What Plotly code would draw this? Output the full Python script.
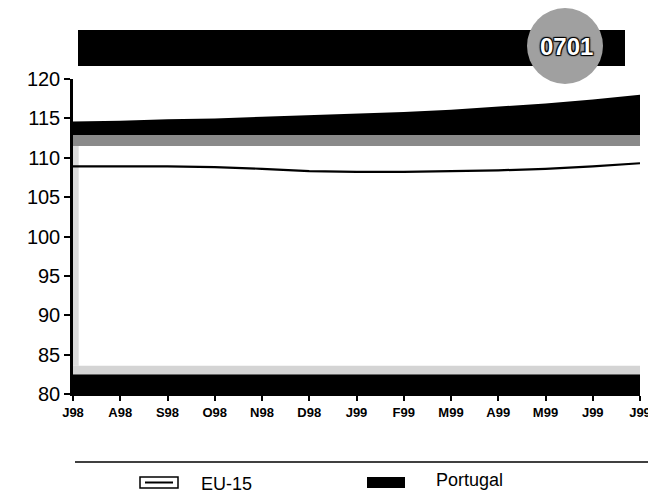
import plotly.graph_objects as go

# ---- data ----
months = ["J98", "A98", "S98", "O98", "N98", "D98", "J99", "F99", "M99", "A99", "M99", "J99", "J99"]
eu15 = [108.9, 108.9, 108.9, 108.8, 108.6, 108.3, 108.2, 108.2, 108.3, 108.4, 108.6, 108.9, 109.3]
portugal_top = [114.6, 114.7, 114.9, 115.0, 115.2, 115.4, 115.6, 115.8, 116.1, 116.5, 116.9, 117.4, 118.0]
portugal_base = [112.9] * 13
grey_upper = [111.5] * 13
bottom_black = [82.5] * 13
bottom_grey = [83.6] * 13
y_ticks = [80, 85, 90, 95, 100, 105, 110, 115, 120]
header_code = "0701"

W, H = 664, 494
L, R, T, B = 73, 24, 79, 100
PW, PH = W - L - R, H - T - B

def px(x):
    return (x - L) / PW

def py(y):
    return (H - B - y) / PH

xs = list(range(len(months)))
fig = go.Figure()

# bottom bands
fig.add_trace(go.Scatter(x=xs, y=[80] * 13, mode="lines", line=dict(width=0), showlegend=False, hoverinfo="skip"))
fig.add_trace(go.Scatter(x=xs, y=bottom_black, mode="lines", line=dict(width=0), fill="tonexty",
                         fillcolor="#000000", showlegend=False, hoverinfo="skip"))
fig.add_trace(go.Scatter(x=xs, y=bottom_grey, mode="lines", line=dict(width=0), fill="tonexty",
                         fillcolor="#d4d4d4", showlegend=False, hoverinfo="skip"))
# upper grey band
fig.add_trace(go.Scatter(x=xs, y=grey_upper, mode="lines", line=dict(width=0), showlegend=False, hoverinfo="skip"))
fig.add_trace(go.Scatter(x=xs, y=portugal_base, mode="lines", line=dict(width=0), fill="tonexty",
                         fillcolor="#8a8a8a", showlegend=False, hoverinfo="skip"))
# Portugal band
fig.add_trace(go.Scatter(x=xs, y=portugal_top, mode="lines", line=dict(width=0, color="#000"), fill="tonexty",
                         fillcolor="#000000", name="Portugal", showlegend=False, hoverinfo="skip"))
# EU-15 line
fig.add_trace(go.Scatter(x=xs, y=eu15, mode="lines", line=dict(color="#000", width=2.2),
                         name="EU-15", showlegend=False))

shapes = []
# left speckled strip
shapes.append(dict(type="rect", xref="x", yref="y", x0=0, x1=0.12, y0=bottom_grey[0], y1=grey_upper[0],
                   fillcolor="#dcdcdc", line=dict(width=0), layer="below"))
# header bar
shapes.append(dict(type="rect", xref="paper", yref="paper", x0=px(78), x1=px(625), y0=py(66), y1=py(30),
                   fillcolor="#000", line=dict(width=0)))
# badge circle
shapes.append(dict(type="circle", xref="paper", yref="paper", x0=px(527), x1=px(603), y0=py(84), y1=py(8),
                   fillcolor="#a0a0a0", line=dict(width=0)))
# legend rule
shapes.append(dict(type="line", xref="paper", yref="paper", x0=px(75), x1=px(660), y0=py(462), y1=py(462),
                   line=dict(color="#000", width=1.5)))
# legend symbols
shapes.append(dict(type="rect", xref="paper", yref="paper", x0=px(140), x1=px(178), y0=py(488), y1=py(477),
                   fillcolor="#fff", line=dict(color="#000", width=1.5)))
shapes.append(dict(type="line", xref="paper", yref="paper", x0=px(145), x1=px(173), y0=py(482.5), y1=py(482.5),
                   line=dict(color="#000", width=2)))
shapes.append(dict(type="rect", xref="paper", yref="paper", x0=px(367), x1=px(405), y0=py(488), y1=py(477),
                   fillcolor="#000", line=dict(width=0)))

annotations = [
    dict(text="<b>" + header_code + "</b>", xref="paper", yref="paper", x=px(566), y=py(47), showarrow=False,
         font=dict(family="Liberation Sans", size=24, color="#ffffff",
                   shadow="1px 1px 1px #000, -1px -1px 1px #000, 1px -1px 1px #000, -1px 1px 1px #000"),
         xanchor="center", yanchor="middle"),
    dict(text="EU-15", xref="paper", yref="paper", x=px(199), y=py(484), showarrow=False,
         font=dict(family="Liberation Sans", size=18, color="#000"), xanchor="left", yanchor="middle"),
    dict(text="Portugal", xref="paper", yref="paper", x=px(434), y=py(480), showarrow=False,
         font=dict(family="Liberation Sans", size=18, color="#000"), xanchor="left", yanchor="middle"),
]

fig.update_layout(
    width=W, height=H,
    margin=dict(l=L, r=R, t=T, b=B),
    paper_bgcolor="#fff", plot_bgcolor="#fff",
    showlegend=False,
    shapes=shapes, annotations=annotations,
    xaxis=dict(range=[0, 12], tickmode="array", tickvals=xs, ticktext=["<b>" + m + "</b>" for m in months],
               showgrid=False, zeroline=False, showline=True, linecolor="#000", linewidth=2,
               ticks="outside", ticklen=5, tickwidth=2, tickcolor="#000", automargin=False,
               tickfont=dict(family="Liberation Sans", size=13, color="#000")),
    yaxis=dict(range=[80, 120], tickmode="array", tickvals=y_ticks, automargin=False,
               showgrid=False, zeroline=False, showline=True, linecolor="#000", linewidth=2.5,
               ticks="outside", ticklen=6, tickwidth=2, tickcolor="#000",
               tickfont=dict(family="Liberation Sans", size=20, color="#000")),
)

fig.write_html(
    "out.html", config={"displayModeBar": False},
    post_script=("document.documentElement.style.overflow='hidden';"
                 "document.body.style.margin='0';document.body.style.overflow='hidden';"))
